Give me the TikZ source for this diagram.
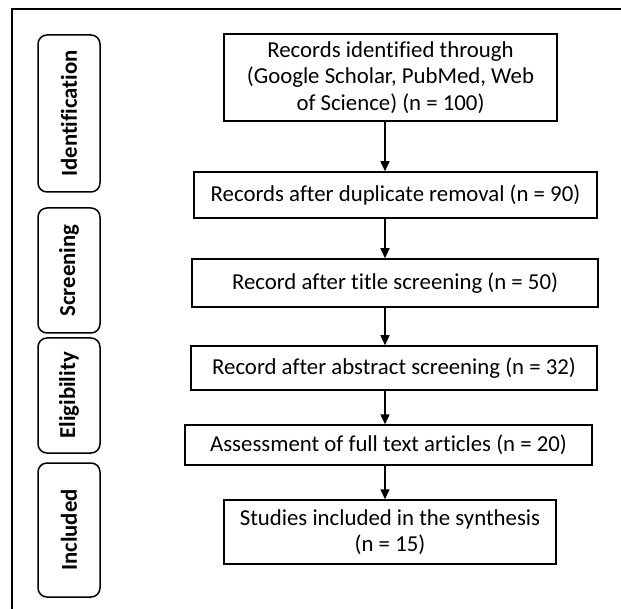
\documentclass[tikz,border=0pt]{standalone}
\usepackage{fontspec}
\setmainfont{Carlito}[Ligatures={NoCommon}]
\usetikzlibrary{arrows.meta}
\begin{document}
\begin{tikzpicture}[x=1pt,y=-1pt,
  mainbox/.style={draw=black,line width=1.5pt,inner sep=0pt,align=center,
    font=\fontsize{22.8}{26.5}\selectfont},
  stagebox/.style={draw=black,line width=1.5pt,rounded corners=9pt,inner sep=0pt,
    minimum width=62pt},
  stagetext/.style={rotate=90,font=\fontsize{22.8}{26}\selectfont\bfseries},
  arr/.style={line width=1.5pt,-{Triangle[length=10pt,width=9pt]}}]
\useasboundingbox (0,0) rectangle (621,609);
% outer frame (cropped on right and bottom)
\coordinate (ftl) at (12,9);
\coordinate (ftr) at (625,9);
\coordinate (fbl) at (12,613);
\draw[line width=1.6pt] (ftr) -- (ftl) -- (fbl);
% main boxes
\node[mainbox,minimum width=333pt,minimum height=87pt] (b1) at (390.5,77.5)
  {Records identified through\\(Google Scholar, PubMed, Web\\of Science) (n = 100)};
\node[mainbox,minimum width=403pt,minimum height=46pt] (b2) at (395.5,195)
  {Records after duplicate removal (n = 90)};
\node[mainbox,minimum width=406pt,minimum height=48pt] (b3) at (395,283)
  {Record after title screening (n = 50)};
\node[mainbox,minimum width=406pt,minimum height=44pt] (b4) at (394,368)
  {Record after abstract screening (n = 32)};
\node[mainbox,minimum width=407pt,minimum height=40pt] (b5) at (388.5,445)
  {Assessment of full text articles (n = 20)};
\node[mainbox,minimum width=332pt,minimum height=64pt] (b6) at (390,532)
  {Studies included in the synthesis\\(n = 15)};
% arrows
\coordinate (ax) at (385,0);
\draw[arr] (b1.south -| ax) -- (b2.north -| ax);
\draw[arr] (b2.south -| ax) -- (b3.north -| ax);
\draw[arr] (b3.south -| ax) -- (b4.north -| ax);
\draw[arr] (b4.south -| ax) -- (b5.north -| ax);
\draw[arr] (b5.south -| ax) -- (b6.north -| ax);
% stage boxes
\node[stagebox,minimum height=157pt] (s1) at (69,113.5) {};
\node[stagebox,minimum height=125pt] (s2) at (69,270.5) {};
\node[stagebox,minimum height=115pt] (s3) at (69,395.5) {};
\node[stagebox,minimum height=134pt] (s4) at (69,530) {};
\node[stagetext] (t1) at (s1.center) {Identification};
\node[stagetext] (t2) at (s2.center) {Screening};
\node[stagetext] (t3) at (s3.center) {Eligibility};
\node[stagetext] (t4) at (s4.center) {Included};
\end{tikzpicture}
\end{document}
